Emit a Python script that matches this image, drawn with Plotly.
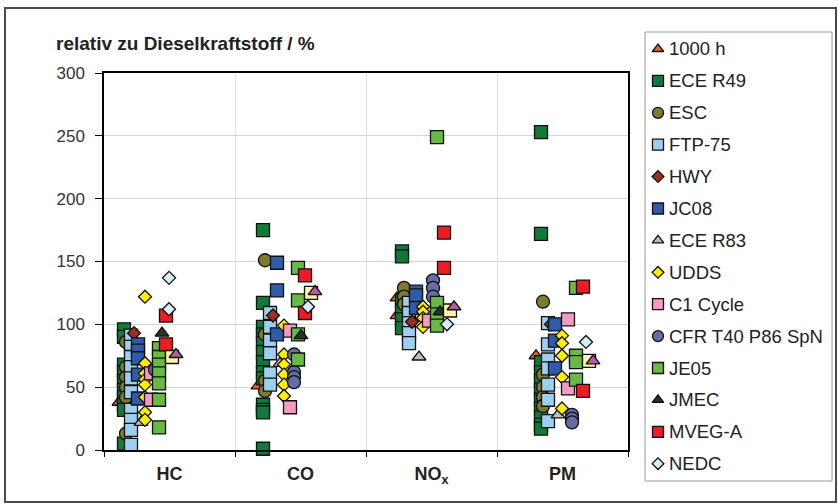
import plotly.graph_objects as go

W, H = 838, 504

CATEGORIES = ["HC", "CO", "NO<sub>x</sub>", "PM"]
Y_TICKS = [0, 50, 100, 150, 200, 250, 300]
Y_TITLE = "relativ zu Dieselkraftstoff / %"

# Emissions relative to diesel fuel (%), one list per component: [HC, CO, NOx, PM]
H1000 = [[38], [51], [121, 107], [75]]
ECE_R49 = [[96, 90, 68, 62, 55, 48, 42, 36, 32, 5],
           [175, 117, 98, 92, 85, 78, 70, 62, 57, 36, 32, 30, 1],
           [158, 154, 119, 111, 104, 97],
           [253, 172, 70, 62, 55, 48, 40, 33, 26, 20, 17]]
ESC = [[86, 66, 58, 50, 42, 13], [151, 92, 55, 47], [129, 122, 116], [118, 60, 50, 42, 35]]
FTP_75 = [[91, 82, 74, 66, 57, 46, 32, 24, 16, 4], [109, 98, 87, 77, 61, 52],
          [117, 109, 101, 93, 85], [101, 84, 72, 65, 52, 40, 23]]
HWY = [[93], [107], [102], [100]]
JC08 = [[84, 79, 73, 60, 41], [149, 127, 92], [126, 123, 113], [100, 87, 65]]
ECE_R83 = [[22], [69], [74], [28]]
UDDS = [[122, 69, 61, 56, 52, 42, 30, 24], [99, 76, 68, 60, 52, 43], [114, 110, 105, 98],
        [91, 85, 75, 58, 33]]
C1_CYCLE = [[61, 40], [95, 34], [103], [104, 49]]
CFR_T40 = [[64], [76, 62, 58, 54], [135, 129, 122], [28, 25, 22]]
JE05 = [[81, 74, 68, 61, 53, 40, 18], [145, 119, 92, 72], [249, 117, 108, 99], [129, 75, 70, 56]]
JMEC = [[93], [91], [110], []]
MVEG_A = [[107, 84], [139, 109], [173, 145], [130, 47]]
NEDC = [[137, 112], [114], [100], [86]]
SERIES_15 = [[74], [125], [111], [71]]
SERIES_16 = [[76], [126], [114], [71]]

# name, values, symbol, fill colour, horizontal shift (px), listed in legend
SERIES = [
    ("1000 h", H1000, "triangle-up", "#F0601E", -5, True),
    ("ECE R49", ECE_R49, "square", "#117A3B", 0, True),
    ("ESC", ESC, "circle", "#7E7B30", 2, True),
    ("FTP-75", FTP_75, "square", "#9DCFF1", 7, True),
    ("HWY", HWY, "diamond", "#9A2E1F", 10, True),
    ("JC08", JC08, "square", "#2F5BAA", 14, True),
    ("ECE R83", ECE_R83, "triangle-up", "#BEBEBE", 17, True),
    ("UDDS", UDDS, "diamond", "#FFEE00", 21, True),
    ("C1 Cycle", C1_CYCLE, "square", "#F39BC3", 27, True),
    ("CFR T40 P86 SpN", CFR_T40, "circle", "#646DA6", 31, True),
    ("JE05", JE05, "square", "#68BA44", 35, True),
    ("JMEC", JMEC, "triangle-up", "#1D3A1F", 38, True),
    ("MVEG-A", MVEG_A, "square", "#EC1C24", 42, True),
    ("NEDC", NEDC, "diamond", "#D6EEF6", 45, True),
    ("Serie 15", SERIES_15, "square", "#FFF4A6", 48, False),
    ("Serie 16", SERIES_16, "triangle-up", "#B25CA6", 52, False),
]

SIZES = {"square": 13, "circle": 13, "diamond": 10, "triangle-up": 12}
LEG_SIZES = {"square": 11, "circle": 11, "diamond": 9, "triangle-up": 10}
EDGE = dict(color="#111111", width=1.3)

FONT = "Arial, 'Liberation Sans', sans-serif"

# plot area in pixels
PX_L, PX_R, PX_T, PX_B = 104, 628, 73, 450
UNIT = (PX_R - PX_L) / len(CATEGORIES)      # px per category band
POINT_X0 = 20 / UNIT                         # first column in the HC band
POINT_STEP = 139 / UNIT                      # column spacing between bands

fig = go.Figure()

for name, values, symbol, color, shift, listed in SERIES:
    xs, ys = [], []
    for k, vals in enumerate(values):
        for v in vals:
            xs.append(POINT_X0 + k * POINT_STEP + shift / UNIT)
            ys.append(v)
    fig.add_trace(go.Scatter(
        x=xs, y=ys, mode="markers", name=name, showlegend=False,
        cliponaxis=False,
        marker=dict(symbol=symbol, size=SIZES[symbol], color=color, opacity=1, line=EDGE),
        hoverinfo="name+y",
    ))

# legend: box, symbols and labels
LEG_L, LEG_R, LEG_T, LEG_B = 645, 832, 32, 481
LEG_Y0, LEG_DY = 49, 31.9
LEG_SYM_X, LEG_TXT_X = 658, 667
legend_items = [s for s in SERIES if s[5]]
fig.add_trace(go.Scatter(
    x=[LEG_SYM_X] * len(legend_items),
    y=[LEG_Y0 + i * LEG_DY for i in range(len(legend_items))],
    xaxis="x2", yaxis="y2", mode="markers", showlegend=False, hoverinfo="skip",
    marker=dict(symbol=[s[2] for s in legend_items],
                size=[LEG_SIZES[s[2]] for s in legend_items],
                color=[s[3] for s in legend_items], opacity=1, line=EDGE),
))

annotations = [dict(
    x=LEG_TXT_X / W, y=1 - (LEG_Y0 + i * LEG_DY) / H, xref="paper", yref="paper",
    text=s[0], showarrow=False, xanchor="left", yanchor="middle",
    font=dict(family=FONT, size=18.5, color="#222222"),
) for i, s in enumerate(legend_items)]

annotations.append(dict(
    x=54 / W, y=1 - 43 / H, xref="paper", yref="paper", text=Y_TITLE,
    showarrow=False, xanchor="left", yanchor="middle",
    font=dict(family=FONT, size=19, color="#222222", weight="bold"),
))

shapes = [
    dict(type="rect", xref="paper", yref="paper",
         x0=5 / W, x1=836 / W, y0=1 - 502 / H, y1=1 - 8 / H,
         line=dict(color="#4a4a4a", width=2), fillcolor="rgba(0,0,0,0)", layer="below"),
    dict(type="rect", xref="paper", yref="paper",
         x0=LEG_L / W, x1=LEG_R / W, y0=1 - LEG_B / H, y1=1 - LEG_T / H,
         line=dict(color="#9a9a9a", width=1), fillcolor="rgba(0,0,0,0)", layer="below"),
]

fig.update_layout(
    width=W, height=H,
    margin=dict(l=0, r=0, t=0, b=0, autoexpand=False),
    paper_bgcolor="white", plot_bgcolor="rgba(0,0,0,0)",
    showlegend=False,
    font=dict(family=FONT, color="#333333"),
    annotations=annotations, shapes=shapes,
    xaxis=dict(
        domain=[PX_L / W, PX_R / W], range=[0, len(CATEGORIES)],
        tickvals=[k + 0.5 for k in range(len(CATEGORIES))], ticktext=CATEGORIES,
        ticks="", showgrid=False, zeroline=False,
        tickfont=dict(family=FONT, size=18, color="#222222", weight="bold"),
        ticklabelstandoff=7,
        showline=True, mirror=True, linecolor="black", linewidth=1.5,
        minor=dict(tickvals=list(range(len(CATEGORIES) + 1)), ticks="outside",
                   ticklen=5, tickcolor="black", showgrid=True, gridcolor="#e3e3e3"),
        fixedrange=True,
    ),
    yaxis=dict(
        domain=[1 - PX_B / H, 1 - PX_T / H], range=[0, 300],
        tickvals=Y_TICKS, ticks="outside", ticklen=7, tickcolor="black",
        tickfont=dict(family=FONT, size=17, color="#333333"),
        ticklabelstandoff=7,
        showgrid=True, gridcolor="#d4d4d4", zeroline=False,
        showline=True, mirror=True, linecolor="black", linewidth=1.5,
        fixedrange=True,
    ),
    xaxis2=dict(domain=[0, 1], range=[0, W], visible=False, anchor="y2", fixedrange=True),
    yaxis2=dict(domain=[0, 1], range=[H, 0], visible=False, anchor="x2", fixedrange=True),
)

fig.write_html("out.html")
